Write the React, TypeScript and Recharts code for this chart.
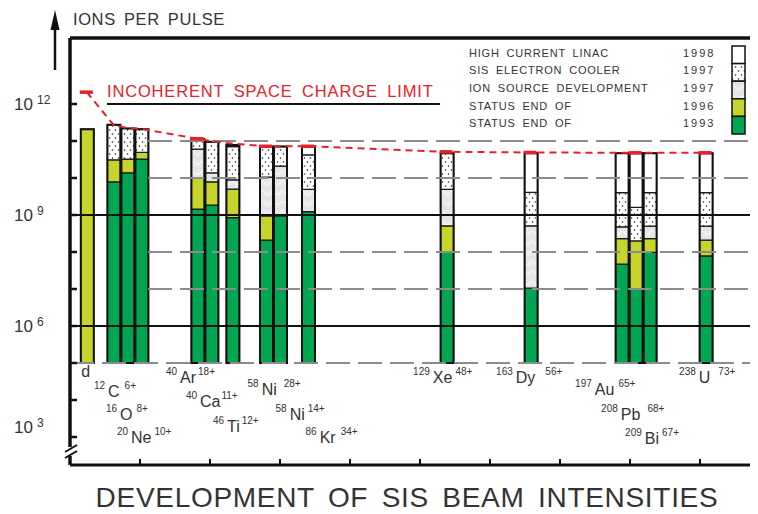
import React from "react";
import {
  ComposedChart,
  Bar,
  Line,
  XAxis,
  YAxis,
  ReferenceLine,
  Legend,
  LabelList,
} from "recharts";

// ions, left to right
const ions = ["d", "C", "O", "Ne", "Ar", "Ca", "Ti", "Ni", "Ni", "Kr", "Xe", "Dy", "Au", "Pb", "Bi", "U"];
const massNumbers = ["", "12", "16", "20", "40", "40", "46", "58", "58", "86", "129", "163", "197", "208", "209", "238"];
const chargeStates = ["", "6+", "8+", "10+", "18+", "11+", "12+", "28+", "14+", "34+", "48+", "56+", "65+", "68+", "67+", "73+"];
// place of each ion along the bottom axis (in bar widths)
const ionSlots = [1.2, 3.1, 4.1, 5.1, 9.1, 10.1, 11.6, 14, 15, 17, 26.9, 32.9, 39.4, 40.4, 41.4, 45.4];

// ions per pulse reached with each step (top of the step, null = no gain)
const barFloor = 1e5;
const status1993 = [null, 7.9e9, 1.38e10, 3.24e10, 1.45e9, 1.86e9, 8.5e8, 2.1e8, 9.5e8, 1.23e9, 1.02e8, 1.05e7, 4.7e7, 9.8e6, 9.8e7, 7.8e7];
const status1996 = [2.09e11, 3.09e10, 3.24e10, 4.9e10, 1.02e10, 7.9e9, 5.0e9, 9.5e8, null, null, 5.1e8, null, 2.3e8, 2.0e8, 2.3e8, 2.1e8];
const ionSource1997 = [null, null, null, null, 6.0e10, 1.38e10, 8.9e9, 1.05e10, 2.1e10, 4.9e9, 4.9e9, 5.1e8, 4.8e8, null, 5.0e8, 5.0e8];
const cooler1997 = [null, 2.75e11, 2.19e11, 2.09e11, 1.12e11, 9.5e10, 7.1e10, 7.1e10, 7.1e10, 4.2e10, 4.7e10, 4.1e9, 4.0e9, 1.6e9, 4.0e9, 4.0e9];
const linac1998 = [null, null, null, null, null, null, 7.8e10, null, null, 7.1e10, null, 4.7e10, 4.7e10, 4.7e10, 4.7e10, 4.7e10];
const spaceChargeLimit = [2.09e12, 2.75e11, 2.24e11, 2.14e11, 1.15e11, 9.8e10, 8.5e10, 7.2e10, 7.2e10, 7.2e10, 5.1e10, 4.9e10, 4.8e10, 4.8e10, 4.8e10, 4.8e10];

const legendLabels = ["HIGH CURRENT LINAC", "SIS ELECTRON COOLER", "ION SOURCE DEVELOPMENT", "STATUS END OF", "STATUS END OF"];
const legendYears = ["1998", "1997", "1997", "1996", "1993"];
const decades = [1e3, 1e4, 1e5, 1e6, 1e7, 1e8, 1e9, 1e10, 1e11, 1e12];
const bottomTicks = [0, 5, 10, 15, 20, 25, 30, 35, 40, 45];

const FONT = '"Liberation Sans", Arial, Helvetica, sans-serif';
const INK = "#333";
const RED = "#e8202a";
const GREEN = "#00a651";
const YELLOW = "#c6d42c";
const Y_DOMAIN = [175, 6.08e13];
const X_DOMAIN = [0, 48.57];

// label placement: start offset from bar centre, baseline below bar foot, gap before charge
const labelLayout = [
  [-6, 14, 0], [-20, 34, 5], [-22, 57, 4], [-25, 80, 3], [-32, 20, 2], [-26, 44, 1], [-20, 69, 2], [-19, 32, 7],
  [-5, 57, 3], [-3, 80, 5], [-34, 20, 3], [-35, 20, 10], [-47, 32, 4], [-35, 57, 7], [-25, 81, 3], [-27, 20, 8],
];
const cappedIons = new Set([0, 4, 7, 9, 10, 11, 13, 15]);

const stageKeys = ["s93", "s96", "src", "cool", "linac"];
const stages = [status1993, status1996, ionSource1997, cooler1997, linac1998];

const rows = ions.map((ion, i) => {
  const row: any = { slot: ionSlots[i], ion, limit: spaceChargeLimit[i] };
  let low = barFloor;
  stages.forEach((s, k) => {
    const v = s[i];
    row[stageKeys[k]] = v == null ? [low, low] : [low, v];
    if (v != null) low = v;
  });
  row.total = [barFloor, low];
  return row;
});

const NoText = () => <g />;

const DecadeTick = ({ x, y, payload }: any) => {
  const exp = Math.round(Math.log10(payload.value));
  if (exp % 3 !== 0) return <g />;
  const lift = exp === 3 ? -10 : 0;
  return (
    <g fill={INK} fontFamily={FONT}>
      <text x={x - 37} y={y + 6 + lift} textAnchor="end" fontSize={17}>10</text>
      <text x={x - 33} y={y + lift} fontSize={12}>{exp}</text>
    </g>
  );
};

const AxisTitle = ({ viewBox }: any) => {
  const right = viewBox.x + viewBox.width;
  const top = viewBox.y;
  const ax = right - 15;
  return (
    <g>
      <line x1={ax} x2={ax} y1={top + 32} y2={top - 12} stroke="#111" strokeWidth={2.5} />
      <path d={`M${ax - 4.5} ${top - 8} L${ax} ${top - 28} L${ax + 4.5} ${top - 8} Z`} fill="#111" />
      <text x={right + 3} y={top - 13} fill={INK} fontFamily={FONT} fontSize={16.5}
        style={{ letterSpacing: 0.6, wordSpacing: 3 }}>
        IONS PER PULSE
      </text>
    </g>
  );
};

const AxisBreak = ({ viewBox }: any) => {
  const ax = viewBox.x;
  const bottom = viewBox.y + viewBox.height;
  return (
    <g>
      <line x1={ax} x2={ax} y1={bottom - 18} y2={bottom - 9} stroke="#fff" strokeWidth={5} />
      <line x1={ax - 5} y1={bottom - 13} x2={ax + 7} y2={bottom - 20} stroke="#111" strokeWidth={2} />
      <line x1={ax - 5} y1={bottom - 7} x2={ax + 7} y2={bottom - 14} stroke="#111" strokeWidth={2} />
    </g>
  );
};

const LimitLabel = ({ viewBox }: any) => (
  <text x={viewBox.x} y={viewBox.y - 7} fill={RED} fontFamily={FONT} fontSize={16.5}
    style={{ letterSpacing: 0.85, wordSpacing: 4 }}>
    INCOHERENT SPACE CHARGE LIMIT
  </text>
);

const IonLabel = (props: any) => {
  const vb = props.viewBox ?? props;
  const i = props.index;
  const [dx, row, gap] = labelLayout[i];
  const sx = vb.x + vb.width / 2 + dx;
  const base = vb.y + vb.height + row;
  if (!massNumbers[i]) {
    return (
      <text x={sx} y={base} fill={INK} fontFamily={FONT} fontSize={16}>{ions[i]}</text>
    );
  }
  return (
    <text x={sx} y={base} fill={INK} fontFamily={FONT}>
      <tspan fontSize={10} dy={-8}>{massNumbers[i]}</tspan>
      <tspan fontSize={16} dx={3} dy={8}>{ions[i]}</tspan>
      <tspan fontSize={10} dx={gap} dy={-8}>{chargeStates[i]}</tspan>
    </text>
  );
};

const LimitCap = (props: any) => {
  const { cx, cy, index } = props;
  if (!cappedIons.has(index)) return <g key={`cap-${index}`} />;
  return (
    <line key={`cap-${index}`} x1={cx - 7} x2={cx + 6} y1={cy} y2={cy} stroke={RED} strokeWidth={3.5} />
  );
};

const swatchFills = ["#ffffff", "url(#dots)", "url(#marble)", YELLOW, GREEN];

const LegendBox = () => (
  <div style={{ position: "relative", width: 290, height: 90, fontFamily: FONT, fontSize: 11, color: INK }}>
    {legendLabels.map((lab, i) => (
      <div key={i} style={{ position: "absolute", left: 0, top: i * 17.7, height: 17.7, lineHeight: "17.7px", whiteSpace: "nowrap" }}>
        <span style={{ letterSpacing: 0.8, wordSpacing: 3 }}>{lab}</span>
        <span style={{ position: "absolute", left: 214, letterSpacing: 2 }}>{legendYears[i]}</span>
      </div>
    ))}
    <svg width={16} height={92} style={{ position: "absolute", left: 262, top: 0 }}>
      {swatchFills.map((f, i) => (
        <rect key={i} x={1} y={1 + i * 17.6} width={13} height={17.6} fill={f} stroke="#111" strokeWidth={1.5} />
      ))}
    </svg>
  </div>
);

const segStroke = { stroke: "#1a1a1a", strokeWidth: 1.3 };

export default function App() {
  return (
    <div style={{ position: "absolute", left: 0, top: 0, width: 758, height: 514, background: "#fff" }}>
      <ComposedChart
        width={758}
        height={514}
        data={rows}
        margin={{ top: 38, right: 8, bottom: 49, left: 10 }}
        barSize={13}
        barGap={-13}
      >
        <defs>
          <pattern id="dots" width="6" height="8" patternUnits="userSpaceOnUse">
            <rect width="6" height="8" fill="#fff" />
            <circle cx="1.5" cy="2" r="0.8" fill="#222" />
            <circle cx="4.5" cy="6" r="0.8" fill="#222" />
          </pattern>
          <pattern id="marble" width="10" height="10" patternUnits="userSpaceOnUse">
            <rect width="10" height="10" fill="#e7e7e7" />
            <path d="M0 3 Q2.5 0 5 3 T10 3" stroke="#f8f8f8" fill="none" strokeWidth="1.2" />
            <path d="M0 8 Q2.5 5 5 8 T10 8" stroke="#dadada" fill="none" strokeWidth="0.8" />
          </pattern>
        </defs>
        <XAxis
          dataKey="slot"
          type="number"
          domain={X_DOMAIN}
          allowDataOverflow
          ticks={bottomTicks}
          mirror
          tick={NoText}
          tickSize={6}
          tickLine={{ stroke: "#111", strokeWidth: 2 }}
          axisLine={{ stroke: "#111", strokeWidth: 3 }}
        />
        <YAxis
          scale="log"
          domain={Y_DOMAIN}
          allowDataOverflow
          ticks={decades}
          width={60}
          tickSize={0}
          tickMargin={0}
          tickLine={false}
          axisLine={false}
          tick={<DecadeTick />}
          label={<AxisTitle />}
        />
        <YAxis
          yAxisId="frame"
          scale="log"
          domain={Y_DOMAIN}
          allowDataOverflow
          ticks={decades}
          mirror
          tick={NoText}
          tickSize={7}
          tickLine={{ stroke: "#111", strokeWidth: 2.5 }}
          axisLine={{ stroke: "#111", strokeWidth: 3.5 }}
          label={<AxisBreak />}
        />

        {[1e11, 1e10, 1e8, 1e7].map((v) => (
          <ReferenceLine key={v} segment={[{ x: 5.57, y: v }, { x: X_DOMAIN[1], y: v }]}
            stroke="#8c8c8c" strokeWidth={2} strokeDasharray="24 8" />
        ))}
        <ReferenceLine segment={[{ x: 0, y: 1e5 }, { x: X_DOMAIN[1], y: 1e5 }]}
          stroke="#8c8c8c" strokeWidth={2} strokeDasharray="24 8" />
        <ReferenceLine y={1e9} stroke="#111" strokeWidth={2} />
        <ReferenceLine y={1e6} stroke="#111" strokeWidth={2} />
        <ReferenceLine segment={[{ x: 2.64, y: 1e12 }, { x: 26.43, y: 1e12 }]}
          stroke="#111" strokeWidth={2} label={<LimitLabel />} />
        <ReferenceLine y={Y_DOMAIN[1]} stroke="#111" strokeWidth={3.5} />

        <Bar dataKey="s93" fill={GREEN} {...segStroke} isAnimationActive={false} />
        <Bar dataKey="s96" fill={YELLOW} {...segStroke} isAnimationActive={false} />
        <Bar dataKey="src" fill="url(#marble)" {...segStroke} isAnimationActive={false} />
        <Bar dataKey="cool" fill="url(#dots)" {...segStroke} isAnimationActive={false} />
        <Bar dataKey="linac" fill="#fff" {...segStroke} isAnimationActive={false} />
        <Bar dataKey="total" fill="none" stroke="#111" strokeWidth={2} isAnimationActive={false} legendType="none">
          <LabelList dataKey="ion" content={<IonLabel />} />
        </Bar>

        <Line
          dataKey="limit"
          type="linear"
          stroke={RED}
          strokeWidth={2}
          strokeDasharray="7 5"
          dot={LimitCap}
          activeDot={false}
          isAnimationActive={false}
        />
        <Legend
          content={<LegendBox />}
          layout="vertical"
          align="center"
          verticalAlign="middle"
          wrapperStyle={{ left: 469, top: 44.6, width: 290 }}
        />
      </ComposedChart>
      <div
        style={{
          position: "absolute",
          left: 57,
          top: 484,
          width: 700,
          textAlign: "center",
          fontFamily: FONT,
          fontSize: 28,
          lineHeight: "28px",
          letterSpacing: 0.7,
          wordSpacing: 5,
          color: INK,
        }}
      >
        DEVELOPMENT OF SIS BEAM INTENSITIES
      </div>
    </div>
  );
}
